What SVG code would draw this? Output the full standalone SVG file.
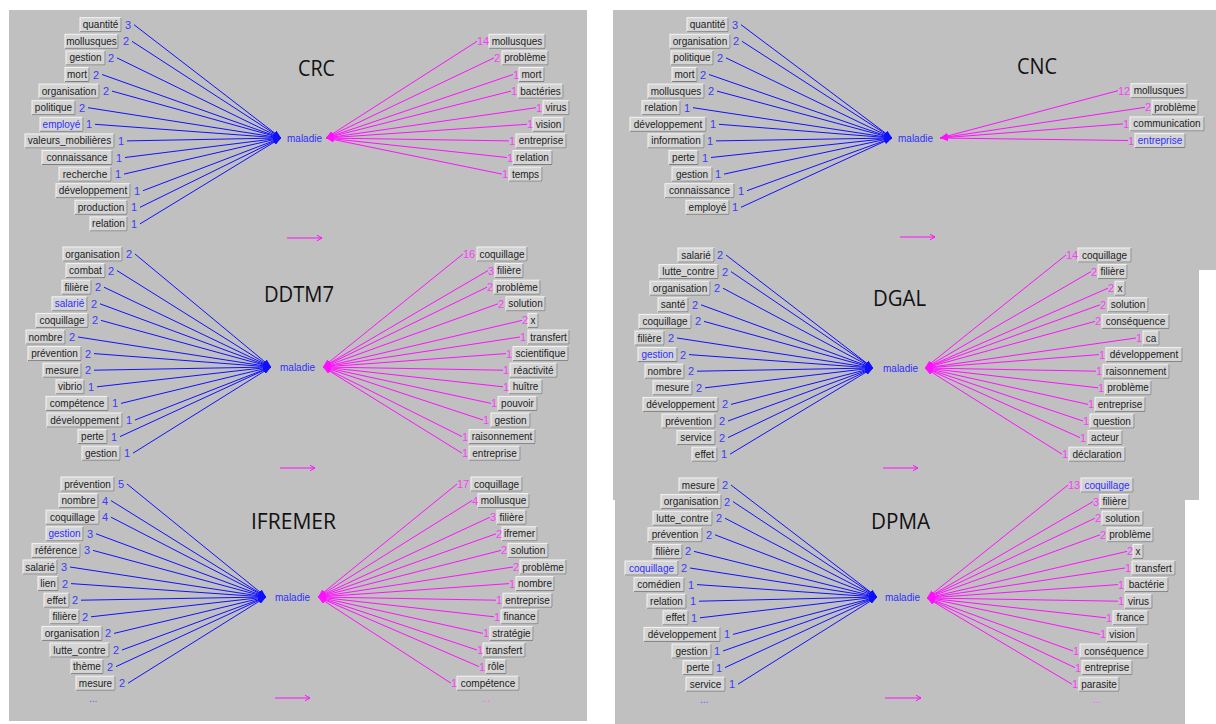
<svg xmlns="http://www.w3.org/2000/svg" width="1216" height="724" viewBox="0 0 1216 724">
<style>
.bg{fill:#c0c0c0}
.n rect{fill:#d4d4d4;stroke:#f4f4f4}
.n path{fill:none;stroke:#7d7d7d}
.n text{font-family:"Liberation Sans",Arial,sans-serif;font-size:10px;fill:#1c1c1c;text-anchor:middle}
.n text.b{fill:#2e2eff}
.n text.nb{font-size:11px;fill:#3a3aff;text-anchor:start}
.n text.nm{font-size:11px;fill:#ff3aff;text-anchor:start}
.cb{stroke:#1010ff;stroke-width:1;fill:none;marker-end:url(#hb)}
.cm{stroke:#ff10ff;stroke-width:1;fill:none;marker-end:url(#hm)}
.ar{stroke:#ff10ff;stroke-width:1;fill:none;marker-end:url(#ha)}
.ttl{font-family:"Open Sans","Noto Sans",sans-serif;font-size:21px;fill:#111}
.mal{font-family:"Liberation Sans",Arial,sans-serif;font-size:10px;fill:#2e2eff}
.db{font-family:"Liberation Sans",Arial,sans-serif;font-size:10px;fill:#5a5aff}
.dm{font-family:"Liberation Sans",Arial,sans-serif;font-size:10px;fill:#ff5aff}
</style>
<defs>
<marker id="hb" viewBox="0 0 8 6" markerWidth="8" markerHeight="6" refX="8" refY="3" orient="auto" markerUnits="userSpaceOnUse"><path d="M0 0L8 3L0 6z" fill="#1010ff"/></marker>
<marker id="hm" viewBox="0 0 8 6" markerWidth="8" markerHeight="6" refX="8" refY="3" orient="auto" markerUnits="userSpaceOnUse"><path d="M0 0L8 3L0 6z" fill="#ff10ff"/></marker>
<marker id="ha" viewBox="0 0 6 6" markerWidth="6" markerHeight="6" refX="5.5" refY="3" orient="auto" markerUnits="userSpaceOnUse"><path d="M0 0L5.5 3L0 6" fill="none" stroke="#ff10ff"/></marker>
</defs>
<rect width="1216" height="724" fill="#ffffff"/>
<rect class="bg" x="9" y="10" width="578" height="711"/>
<path class="bg" d="M613 10H1216V270H1199V500H1185V724H615V500H613Z"/>

<g id="titles">
<text class="ttl" x="298" y="76" textLength="37" lengthAdjust="spacingAndGlyphs">CRC</text>
<text class="ttl" x="264" y="301.5" textLength="70" lengthAdjust="spacingAndGlyphs">DDTM7</text>
<text class="ttl" x="251" y="529" textLength="85" lengthAdjust="spacingAndGlyphs">IFREMER</text>
<text class="ttl" x="1017" y="73.5" textLength="40" lengthAdjust="spacingAndGlyphs">CNC</text>
<text class="ttl" x="873" y="305.5" textLength="53" lengthAdjust="spacingAndGlyphs">DGAL</text>
<text class="ttl" x="871" y="529" textLength="59" lengthAdjust="spacingAndGlyphs">DPMA</text>
</g>

<g id="connectors">
<!-- CRC -->
<path class="cb" d="M134 24.7L281 138"/>
<path class="cb" d="M132 41.3L281 138"/>
<path class="cb" d="M117 57.9L281 138"/>
<path class="cb" d="M102 74.5L281 138"/>
<path class="cb" d="M112 91.1L281 138"/>
<path class="cb" d="M88 107.7L281 138"/>
<path class="cb" d="M95 124.3L281 138"/>
<path class="cb" d="M127 140.9L281 138"/>
<path class="cb" d="M125 157.5L281 138"/>
<path class="cb" d="M124 174.1L281 138"/>
<path class="cb" d="M143 190.7L281 138"/>
<path class="cb" d="M140 207.3L281 138"/>
<path class="cb" d="M140 223.9L281 138"/>
<path class="cm" d="M477 41.3L326 138"/>
<path class="cm" d="M494 57.9L326 138"/>
<path class="cm" d="M513 74.5L326 138"/>
<path class="cm" d="M511 91.1L326 138"/>
<path class="cm" d="M536 107.7L326 138"/>
<path class="cm" d="M527 124.3L326 138"/>
<path class="cm" d="M509 140.9L326 138"/>
<path class="cm" d="M507 157.5L326 138"/>
<path class="cm" d="M502 174.1L326 138"/>
<path class="ar" d="M287 238H322"/>
<!-- DDTM7 -->
<path class="cb" d="M135 254L271 367"/>
<path class="cb" d="M117 270.6L271 367"/>
<path class="cb" d="M104 287.2L271 367"/>
<path class="cb" d="M100 303.8L271 367"/>
<path class="cb" d="M101 320.4L271 367"/>
<path class="cb" d="M78 337L271 367"/>
<path class="cb" d="M94 353.6L271 367"/>
<path class="cb" d="M94 370.2L271 367"/>
<path class="cb" d="M97 386.8L271 367"/>
<path class="cb" d="M121 403.4L271 367"/>
<path class="cb" d="M135 420L271 367"/>
<path class="cb" d="M120 436.6L271 367"/>
<path class="cb" d="M133 453.2L271 367"/>
<path class="cm" d="M463 254L323 367"/>
<path class="cm" d="M488 270.6L323 367"/>
<path class="cm" d="M487 287.2L323 367"/>
<path class="cm" d="M498 303.8L323 367"/>
<path class="cm" d="M522 320.4L323 367"/>
<path class="cm" d="M520 337L323 367"/>
<path class="cm" d="M506 353.6L323 367"/>
<path class="cm" d="M503 370.2L323 367"/>
<path class="cm" d="M503 386.8L323 367"/>
<path class="cm" d="M491 403.4L323 367"/>
<path class="cm" d="M483 420L323 367"/>
<path class="cm" d="M462 436.6L323 367"/>
<path class="cm" d="M462 453.2L323 367"/>
<path class="ar" d="M280 468H315"/>
<!-- IFREMER -->
<path class="cb" d="M127 484L266 597"/>
<path class="cb" d="M111 500.6L266 597"/>
<path class="cb" d="M111 517.2L266 597"/>
<path class="cb" d="M96 533.8L266 597"/>
<path class="cb" d="M93 550.4L266 597"/>
<path class="cb" d="M70 567L266 597"/>
<path class="cb" d="M71 583.6L266 597"/>
<path class="cb" d="M81 600.2L266 597"/>
<path class="cb" d="M91 616.8L266 597"/>
<path class="cb" d="M114 633.4L266 597"/>
<path class="cb" d="M122 650L266 597"/>
<path class="cb" d="M116 666.6L266 597"/>
<path class="cb" d="M128 683.2L266 597"/>
<path class="cm" d="M457 484L318 597"/>
<path class="cm" d="M472 500.6L318 597"/>
<path class="cm" d="M490 517.2L318 597"/>
<path class="cm" d="M496 533.8L318 597"/>
<path class="cm" d="M501 550.4L318 597"/>
<path class="cm" d="M513 567L318 597"/>
<path class="cm" d="M509 583.6L318 597"/>
<path class="cm" d="M496 600.2L318 597"/>
<path class="cm" d="M494 616.8L318 597"/>
<path class="cm" d="M483 633.4L318 597"/>
<path class="cm" d="M477 650L318 597"/>
<path class="cm" d="M479 666.6L318 597"/>
<path class="cm" d="M451 683.2L318 597"/>
<path class="ar" d="M275 698H310"/>
<!-- CNC -->
<path class="cb" d="M741 24.7L892 138"/>
<path class="cb" d="M742 41.3L892 138"/>
<path class="cb" d="M726 57.9L892 138"/>
<path class="cb" d="M709 74.5L892 138"/>
<path class="cb" d="M717 91.1L892 138"/>
<path class="cb" d="M693 107.7L892 138"/>
<path class="cb" d="M719 124.3L892 138"/>
<path class="cb" d="M716 140.9L892 138"/>
<path class="cb" d="M711 157.5L892 138"/>
<path class="cb" d="M724 174.1L892 138"/>
<path class="cb" d="M747 190.7L892 138"/>
<path class="cb" d="M741 207.3L892 138"/>
<path class="cm" d="M1118 90.7L940 138"/>
<path class="cm" d="M1145 107.3L940 138"/>
<path class="cm" d="M1123 123.9L940 138"/>
<path class="cm" d="M1128 140.5L940 138"/>
<path class="ar" d="M900 237H935"/>
<!-- DGAL -->
<path class="cb" d="M726 255L873 368"/>
<path class="cb" d="M731 271.6L873 368"/>
<path class="cb" d="M723 288.2L873 368"/>
<path class="cb" d="M701 304.8L873 368"/>
<path class="cb" d="M704 321.4L873 368"/>
<path class="cb" d="M677 338L873 368"/>
<path class="cb" d="M689 354.6L873 368"/>
<path class="cb" d="M697 371.2L873 368"/>
<path class="cb" d="M705 387.8L873 368"/>
<path class="cb" d="M731 404.4L873 368"/>
<path class="cb" d="M728 421L873 368"/>
<path class="cb" d="M728 437.6L873 368"/>
<path class="cb" d="M730 454.2L873 368"/>
<path class="cm" d="M1066 255L925 368"/>
<path class="cm" d="M1091 271.6L925 368"/>
<path class="cm" d="M1108 288.2L925 368"/>
<path class="cm" d="M1100 304.8L925 368"/>
<path class="cm" d="M1095 321.4L925 368"/>
<path class="cm" d="M1136 338L925 368"/>
<path class="cm" d="M1099 354.6L925 368"/>
<path class="cm" d="M1096 371.2L925 368"/>
<path class="cm" d="M1098 387.8L925 368"/>
<path class="cm" d="M1088 404.4L925 368"/>
<path class="cm" d="M1083 421L925 368"/>
<path class="cm" d="M1080 437.6L925 368"/>
<path class="cm" d="M1062 454.2L925 368"/>
<path class="ar" d="M883 468H918"/>
<!-- DPMA -->
<path class="cb" d="M731 485L877 597"/>
<path class="cb" d="M733 501.6L877 597"/>
<path class="cb" d="M725 518.2L877 597"/>
<path class="cb" d="M715 534.8L877 597"/>
<path class="cb" d="M694 551.4L877 597"/>
<path class="cb" d="M690 568L877 597"/>
<path class="cb" d="M697 584.6L877 597"/>
<path class="cb" d="M699 601.2L877 597"/>
<path class="cb" d="M700 617.8L877 597"/>
<path class="cb" d="M733 634.4L877 597"/>
<path class="cb" d="M723 651L877 597"/>
<path class="cb" d="M725 667.6L877 597"/>
<path class="cb" d="M738 684.2L877 597"/>
<path class="cm" d="M1068 485L927 598"/>
<path class="cm" d="M1093 501.6L927 598"/>
<path class="cm" d="M1095 518.2L927 598"/>
<path class="cm" d="M1100 534.8L927 598"/>
<path class="cm" d="M1127 551.4L927 598"/>
<path class="cm" d="M1125 568L927 598"/>
<path class="cm" d="M1118 584.6L927 598"/>
<path class="cm" d="M1118 601.2L927 598"/>
<path class="cm" d="M1106 617.8L927 598"/>
<path class="cm" d="M1100 634.4L927 598"/>
<path class="cm" d="M1073 651L927 598"/>
<path class="cm" d="M1075 667.6L927 598"/>
<path class="cm" d="M1072 684.2L927 598"/>
<path class="ar" d="M885 698H921"/>
</g>

<!-- central nodes -->
<g id="crc-maladie"><text class="mal" x="287" y="141.5">maladie</text></g>
<g id="ddtm7-maladie"><text class="mal" x="280" y="370.5">maladie</text></g>
<g id="ifremer-maladie"><text class="mal" x="275" y="600.5">maladie</text></g>
<g id="cnc-maladie"><text class="mal" x="898" y="141.5">maladie</text></g>
<g id="dgal-maladie"><text class="mal" x="883" y="371.5">maladie</text></g>
<g id="dpma-maladie"><text class="mal" x="885" y="601">maladie</text></g>

<!-- CRC left -->
<g class="n" id="crc-l1" transform="translate(0 24.7)"><rect x="80" y="-7" width="41" height="14"/><path d="M80 7H121V-7"/><text x="100.5" y="3.5">quantité</text><text class="nb" x="125" y="4">3</text></g>
<g class="n" id="crc-l2" transform="translate(0 41.3)"><rect x="65" y="-7" width="53" height="14"/><path d="M65 7H118V-7"/><text x="91.5" y="3.5">mollusques</text><text class="nb" x="123" y="4">2</text></g>
<g class="n" id="crc-l3" transform="translate(0 57.9)"><rect x="66" y="-7" width="39" height="14"/><path d="M66 7H105V-7"/><text x="85.5" y="3.5">gestion</text><text class="nb" x="108" y="4">2</text></g>
<g class="n" id="crc-l4" transform="translate(0 74.5)"><rect x="65" y="-7" width="24" height="14"/><path d="M65 7H89V-7"/><text x="77" y="3.5">mort</text><text class="nb" x="93" y="4">2</text></g>
<g class="n" id="crc-l5" transform="translate(0 91.1)"><rect x="39" y="-7" width="60" height="14"/><path d="M39 7H99V-7"/><text x="69" y="3.5">organisation</text><text class="nb" x="103" y="4">2</text></g>
<g class="n" id="crc-l6" transform="translate(0 107.7)"><rect x="32" y="-7" width="43" height="14"/><path d="M32 7H75V-7"/><text x="53.5" y="3.5">politique</text><text class="nb" x="79" y="4">2</text></g>
<g class="n" id="crc-l7" transform="translate(0 124.3)"><rect x="40" y="-7" width="43" height="14"/><path d="M40 7H83V-7"/><text class="b" x="61.5" y="3.5">employé</text><text class="nb" x="86" y="4">1</text></g>
<g class="n" id="crc-l8" transform="translate(0 140.9)"><rect x="25" y="-7" width="89" height="14"/><path d="M25 7H114V-7"/><text x="69.5" y="3.5">valeurs_mobilières</text><text class="nb" x="118" y="4">1</text></g>
<g class="n" id="crc-l9" transform="translate(0 157.5)"><rect x="42" y="-7" width="70" height="14"/><path d="M42 7H112V-7"/><text x="77" y="3.5">connaissance</text><text class="nb" x="116" y="4">1</text></g>
<g class="n" id="crc-l10" transform="translate(0 174.1)"><rect x="59" y="-7" width="52" height="14"/><path d="M59 7H111V-7"/><text x="85" y="3.5">recherche</text><text class="nb" x="115" y="4">1</text></g>
<g class="n" id="crc-l11" transform="translate(0 190.7)"><rect x="56" y="-7" width="74" height="14"/><path d="M56 7H130V-7"/><text x="93" y="3.5">développement</text><text class="nb" x="134" y="4">1</text></g>
<g class="n" id="crc-l12" transform="translate(0 207.3)"><rect x="75" y="-7" width="52" height="14"/><path d="M75 7H127V-7"/><text x="101" y="3.5">production</text><text class="nb" x="131" y="4">1</text></g>
<g class="n" id="crc-l13" transform="translate(0 223.9)"><rect x="90" y="-7" width="37" height="14"/><path d="M90 7H127V-7"/><text x="108.5" y="3.5">relation</text><text class="nb" x="131" y="4">1</text></g>
<!-- CRC right -->
<g class="n" id="crc-r1" transform="translate(0 41.3)"><rect x="489" y="-7" width="56" height="14"/><path d="M489 7H545V-7"/><text x="517" y="3.5">mollusques</text><text class="nm" x="477" y="4">14</text></g>
<g class="n" id="crc-r2" transform="translate(0 57.9)"><rect x="502" y="-7" width="46" height="14"/><path d="M502 7H548V-7"/><text x="525" y="3.5">problème</text><text class="nm" x="494" y="4">2</text></g>
<g class="n" id="crc-r3" transform="translate(0 74.5)"><rect x="519" y="-7" width="25" height="14"/><path d="M519 7H544V-7"/><text x="531.5" y="3.5">mort</text><text class="nm" x="513" y="4">1</text></g>
<g class="n" id="crc-r4" transform="translate(0 91.1)"><rect x="518" y="-7" width="45" height="14"/><path d="M518 7H563V-7"/><text x="540.5" y="3.5">bactéries</text><text class="nm" x="511" y="4">1</text></g>
<g class="n" id="crc-r5" transform="translate(0 107.7)"><rect x="543" y="-7" width="26" height="14"/><path d="M543 7H569V-7"/><text x="556" y="3.5">virus</text><text class="nm" x="536" y="4">1</text></g>
<g class="n" id="crc-r6" transform="translate(0 124.3)"><rect x="533" y="-7" width="31" height="14"/><path d="M533 7H564V-7"/><text x="548.5" y="3.5">vision</text><text class="nm" x="527" y="4">1</text></g>
<g class="n" id="crc-r7" transform="translate(0 140.9)"><rect x="516" y="-7" width="50" height="14"/><path d="M516 7H566V-7"/><text x="541" y="3.5">entreprise</text><text class="nm" x="509" y="4">1</text></g>
<g class="n" id="crc-r8" transform="translate(0 157.5)"><rect x="513" y="-7" width="39" height="14"/><path d="M513 7H552V-7"/><text x="532.5" y="3.5">relation</text><text class="nm" x="507" y="4">1</text></g>
<g class="n" id="crc-r9" transform="translate(0 174.1)"><rect x="509" y="-7" width="33" height="14"/><path d="M509 7H542V-7"/><text x="525.5" y="3.5">temps</text><text class="nm" x="502" y="4">1</text></g>

<!-- DDTM7 left -->
<g class="n" id="ddtm7-l1" transform="translate(0 254)"><rect x="63" y="-7" width="59" height="14"/><path d="M63 7H122V-7"/><text x="92.5" y="3.5">organisation</text><text class="nb" x="126" y="4">2</text></g>
<g class="n" id="ddtm7-l2" transform="translate(0 270.6)"><rect x="66" y="-7" width="39" height="14"/><path d="M66 7H105V-7"/><text x="85.5" y="3.5">combat</text><text class="nb" x="108" y="4">2</text></g>
<g class="n" id="ddtm7-l3" transform="translate(0 287.2)"><rect x="62" y="-7" width="29" height="14"/><path d="M62 7H91V-7"/><text x="76.5" y="3.5">filière</text><text class="nb" x="95" y="4">2</text></g>
<g class="n" id="ddtm7-l4" transform="translate(0 303.8)"><rect x="52" y="-7" width="35" height="14"/><path d="M52 7H87V-7"/><text class="b" x="69.5" y="3.5">salarié</text><text class="nb" x="91" y="4">2</text></g>
<g class="n" id="ddtm7-l5" transform="translate(0 320.4)"><rect x="36" y="-7" width="52" height="14"/><path d="M36 7H88V-7"/><text x="62" y="3.5">coquillage</text><text class="nb" x="92" y="4">2</text></g>
<g class="n" id="ddtm7-l6" transform="translate(0 337)"><rect x="26" y="-7" width="39" height="14"/><path d="M26 7H65V-7"/><text x="45.5" y="3.5">nombre</text><text class="nb" x="69" y="4">2</text></g>
<g class="n" id="ddtm7-l7" transform="translate(0 353.6)"><rect x="28" y="-7" width="53" height="14"/><path d="M28 7H81V-7"/><text x="54.5" y="3.5">prévention</text><text class="nb" x="85" y="4">2</text></g>
<g class="n" id="ddtm7-l8" transform="translate(0 370.2)"><rect x="43" y="-7" width="38" height="14"/><path d="M43 7H81V-7"/><text x="62" y="3.5">mesure</text><text class="nb" x="85" y="4">2</text></g>
<g class="n" id="ddtm7-l9" transform="translate(0 386.8)"><rect x="56" y="-7" width="28" height="14"/><path d="M56 7H84V-7"/><text x="70" y="3.5">vibrio</text><text class="nb" x="88" y="4">1</text></g>
<g class="n" id="ddtm7-l10" transform="translate(0 403.4)"><rect x="46" y="-7" width="62" height="14"/><path d="M46 7H108V-7"/><text x="77" y="3.5">compétence</text><text class="nb" x="112" y="4">1</text></g>
<g class="n" id="ddtm7-l11" transform="translate(0 420)"><rect x="47" y="-7" width="75" height="14"/><path d="M47 7H122V-7"/><text x="84.5" y="3.5">développement</text><text class="nb" x="126" y="4">1</text></g>
<g class="n" id="ddtm7-l12" transform="translate(0 436.6)"><rect x="78" y="-7" width="29" height="14"/><path d="M78 7H107V-7"/><text x="92.5" y="3.5">perte</text><text class="nb" x="111" y="4">1</text></g>
<g class="n" id="ddtm7-l13" transform="translate(0 453.2)"><rect x="82" y="-7" width="38" height="14"/><path d="M82 7H120V-7"/><text x="101" y="3.5">gestion</text><text class="nb" x="124" y="4">1</text></g>
<!-- DDTM7 right -->
<g class="n" id="ddtm7-r1" transform="translate(0 254)"><rect x="477" y="-7" width="50" height="14"/><path d="M477 7H527V-7"/><text x="502" y="3.5">coquillage</text><text class="nm" x="463" y="4">16</text></g>
<g class="n" id="ddtm7-r2" transform="translate(0 270.6)"><rect x="495" y="-7" width="28" height="14"/><path d="M495 7H523V-7"/><text x="509" y="3.5">filière</text><text class="nm" x="488" y="4">3</text></g>
<g class="n" id="ddtm7-r3" transform="translate(0 287.2)"><rect x="494" y="-7" width="46" height="14"/><path d="M494 7H540V-7"/><text x="517" y="3.5">problème</text><text class="nm" x="487" y="4">2</text></g>
<g class="n" id="ddtm7-r4" transform="translate(0 303.8)"><rect x="506" y="-7" width="39" height="14"/><path d="M506 7H545V-7"/><text x="525.5" y="3.5">solution</text><text class="nm" x="498" y="4">2</text></g>
<g class="n" id="ddtm7-r5" transform="translate(0 320.4)"><rect x="528" y="-7" width="10" height="14"/><path d="M528 7H538V-7"/><text x="533" y="3.5">x</text><text class="nm" x="522" y="4">2</text></g>
<g class="n" id="ddtm7-r6" transform="translate(0 337)"><rect x="528" y="-7" width="41" height="14"/><path d="M528 7H569V-7"/><text x="548.5" y="3.5">transfert</text><text class="nm" x="520" y="4">1</text></g>
<g class="n" id="ddtm7-r7" transform="translate(0 353.6)"><rect x="513" y="-7" width="55" height="14"/><path d="M513 7H568V-7"/><text x="540.5" y="3.5">scientifique</text><text class="nm" x="506" y="4">1</text></g>
<g class="n" id="ddtm7-r8" transform="translate(0 370.2)"><rect x="510" y="-7" width="47" height="14"/><path d="M510 7H557V-7"/><text x="533.5" y="3.5">réactivité</text><text class="nm" x="503" y="4">1</text></g>
<g class="n" id="ddtm7-r9" transform="translate(0 386.8)"><rect x="509" y="-7" width="33" height="14"/><path d="M509 7H542V-7"/><text x="525.5" y="3.5">huître</text><text class="nm" x="503" y="4">1</text></g>
<g class="n" id="ddtm7-r10" transform="translate(0 403.4)"><rect x="498" y="-7" width="39" height="14"/><path d="M498 7H537V-7"/><text x="517.5" y="3.5">pouvoir</text><text class="nm" x="491" y="4">1</text></g>
<g class="n" id="ddtm7-r11" transform="translate(0 420)"><rect x="491" y="-7" width="39" height="14"/><path d="M491 7H530V-7"/><text x="510.5" y="3.5">gestion</text><text class="nm" x="483" y="4">1</text></g>
<g class="n" id="ddtm7-r12" transform="translate(0 436.6)"><rect x="469" y="-7" width="66" height="14"/><path d="M469 7H535V-7"/><text x="502" y="3.5">raisonnement</text><text class="nm" x="462" y="4">1</text></g>
<g class="n" id="ddtm7-r13" transform="translate(0 453.2)"><rect x="469" y="-7" width="51" height="14"/><path d="M469 7H520V-7"/><text x="494.5" y="3.5">entreprise</text><text class="nm" x="462" y="4">1</text></g>

<!-- IFREMER left -->
<g class="n" id="ifremer-l1" transform="translate(0 484)"><rect x="61" y="-7" width="53" height="14"/><path d="M61 7H114V-7"/><text x="87.5" y="3.5">prévention</text><text class="nb" x="118" y="4">5</text></g>
<g class="n" id="ifremer-l2" transform="translate(0 500.6)"><rect x="59" y="-7" width="39" height="14"/><path d="M59 7H98V-7"/><text x="78.5" y="3.5">nombre</text><text class="nb" x="102" y="4">4</text></g>
<g class="n" id="ifremer-l3" transform="translate(0 517.2)"><rect x="46" y="-7" width="53" height="14"/><path d="M46 7H99V-7"/><text x="72.5" y="3.5">coquillage</text><text class="nb" x="102" y="4">4</text></g>
<g class="n" id="ifremer-l4" transform="translate(0 533.8)"><rect x="46" y="-7" width="37" height="14"/><path d="M46 7H83V-7"/><text class="b" x="64.5" y="3.5">gestion</text><text class="nb" x="87" y="4">3</text></g>
<g class="n" id="ifremer-l5" transform="translate(0 550.4)"><rect x="32" y="-7" width="48" height="14"/><path d="M32 7H80V-7"/><text x="56" y="3.5">référence</text><text class="nb" x="84" y="4">3</text></g>
<g class="n" id="ifremer-l6" transform="translate(0 567)"><rect x="23" y="-7" width="34" height="14"/><path d="M23 7H57V-7"/><text x="40" y="3.5">salarié</text><text class="nb" x="61" y="4">3</text></g>
<g class="n" id="ifremer-l7" transform="translate(0 583.6)"><rect x="38" y="-7" width="20" height="14"/><path d="M38 7H58V-7"/><text x="48" y="3.5">lien</text><text class="nb" x="62" y="4">2</text></g>
<g class="n" id="ifremer-l8" transform="translate(0 600.2)"><rect x="44" y="-7" width="25" height="14"/><path d="M44 7H69V-7"/><text x="56.5" y="3.5">effet</text><text class="nb" x="72" y="4">2</text></g>
<g class="n" id="ifremer-l9" transform="translate(0 616.8)"><rect x="50" y="-7" width="29" height="14"/><path d="M50 7H79V-7"/><text x="64.5" y="3.5">filière</text><text class="nb" x="82" y="4">2</text></g>
<g class="n" id="ifremer-l10" transform="translate(0 633.4)"><rect x="42" y="-7" width="60" height="14"/><path d="M42 7H102V-7"/><text x="72" y="3.5">organisation</text><text class="nb" x="105" y="4">2</text></g>
<g class="n" id="ifremer-l11" transform="translate(0 650)"><rect x="50" y="-7" width="59" height="14"/><path d="M50 7H109V-7"/><text x="79.5" y="3.5">lutte_contre</text><text class="nb" x="113" y="4">2</text></g>
<g class="n" id="ifremer-l12" transform="translate(0 666.6)"><rect x="71" y="-7" width="32" height="14"/><path d="M71 7H103V-7"/><text x="87" y="3.5">thème</text><text class="nb" x="107" y="4">2</text></g>
<g class="n" id="ifremer-l13" transform="translate(0 683.2)"><rect x="76" y="-7" width="39" height="14"/><path d="M76 7H115V-7"/><text x="95.5" y="3.5">mesure</text><text class="nb" x="119" y="4">2</text></g>
<text class="db" x="89" y="702">...</text>
<!-- IFREMER right -->
<g class="n" id="ifremer-r1" transform="translate(0 484)"><rect x="471" y="-7" width="51" height="14"/><path d="M471 7H522V-7"/><text x="496.5" y="3.5">coquillage</text><text class="nm" x="457" y="4">17</text></g>
<g class="n" id="ifremer-r2" transform="translate(0 500.6)"><rect x="478" y="-7" width="51" height="14"/><path d="M478 7H529V-7"/><text x="503.5" y="3.5">mollusque</text><text class="nm" x="472" y="4">4</text></g>
<g class="n" id="ifremer-r3" transform="translate(0 517.2)"><rect x="497" y="-7" width="29" height="14"/><path d="M497 7H526V-7"/><text x="511.5" y="3.5">filière</text><text class="nm" x="490" y="4">3</text></g>
<g class="n" id="ifremer-r4" transform="translate(0 533.8)"><rect x="502" y="-7" width="35" height="14"/><path d="M502 7H537V-7"/><text x="519.5" y="3.5">ifremer</text><text class="nm" x="496" y="4">2</text></g>
<g class="n" id="ifremer-r5" transform="translate(0 550.4)"><rect x="508" y="-7" width="40" height="14"/><path d="M508 7H548V-7"/><text x="528" y="3.5">solution</text><text class="nm" x="501" y="4">2</text></g>
<g class="n" id="ifremer-r6" transform="translate(0 567)"><rect x="520" y="-7" width="46" height="14"/><path d="M520 7H566V-7"/><text x="543" y="3.5">problème</text><text class="nm" x="513" y="4">2</text></g>
<g class="n" id="ifremer-r7" transform="translate(0 583.6)"><rect x="516" y="-7" width="38" height="14"/><path d="M516 7H554V-7"/><text x="535" y="3.5">nombre</text><text class="nm" x="509" y="4">1</text></g>
<g class="n" id="ifremer-r8" transform="translate(0 600.2)"><rect x="503" y="-7" width="49" height="14"/><path d="M503 7H552V-7"/><text x="527.5" y="3.5">entreprise</text><text class="nm" x="496" y="4">1</text></g>
<g class="n" id="ifremer-r9" transform="translate(0 616.8)"><rect x="501" y="-7" width="37" height="14"/><path d="M501 7H538V-7"/><text x="519.5" y="3.5">finance</text><text class="nm" x="494" y="4">1</text></g>
<g class="n" id="ifremer-r10" transform="translate(0 633.4)"><rect x="490" y="-7" width="43" height="14"/><path d="M490 7H533V-7"/><text x="511.5" y="3.5">stratégie</text><text class="nm" x="483" y="4">1</text></g>
<g class="n" id="ifremer-r11" transform="translate(0 650)"><rect x="483" y="-7" width="42" height="14"/><path d="M483 7H525V-7"/><text x="504" y="3.5">transfert</text><text class="nm" x="477" y="4">1</text></g>
<g class="n" id="ifremer-r12" transform="translate(0 666.6)"><rect x="486" y="-7" width="20" height="14"/><path d="M486 7H506V-7"/><text x="496" y="3.5">rôle</text><text class="nm" x="479" y="4">1</text></g>
<g class="n" id="ifremer-r13" transform="translate(0 683.2)"><rect x="457" y="-7" width="62" height="14"/><path d="M457 7H519V-7"/><text x="488" y="3.5">compétence</text><text class="nm" x="451" y="4">1</text></g>
<text class="dm" x="482" y="702">...</text>

<!-- CNC left -->
<g class="n" id="cnc-l1" transform="translate(0 24.7)"><rect x="687" y="-7" width="41" height="14"/><path d="M687 7H728V-7"/><text x="707.5" y="3.5">quantité</text><text class="nb" x="732" y="4">3</text></g>
<g class="n" id="cnc-l2" transform="translate(0 41.3)"><rect x="670" y="-7" width="60" height="14"/><path d="M670 7H730V-7"/><text x="700" y="3.5">organisation</text><text class="nb" x="733" y="4">2</text></g>
<g class="n" id="cnc-l3" transform="translate(0 57.9)"><rect x="671" y="-7" width="42" height="14"/><path d="M671 7H713V-7"/><text x="692" y="3.5">politique</text><text class="nb" x="717" y="4">2</text></g>
<g class="n" id="cnc-l4" transform="translate(0 74.5)"><rect x="672" y="-7" width="25" height="14"/><path d="M672 7H697V-7"/><text x="684.5" y="3.5">mort</text><text class="nb" x="700" y="4">2</text></g>
<g class="n" id="cnc-l5" transform="translate(0 91.1)"><rect x="648" y="-7" width="56" height="14"/><path d="M648 7H704V-7"/><text x="676" y="3.5">mollusques</text><text class="nb" x="708" y="4">2</text></g>
<g class="n" id="cnc-l6" transform="translate(0 107.7)"><rect x="642" y="-7" width="38" height="14"/><path d="M642 7H680V-7"/><text x="661" y="3.5">relation</text><text class="nb" x="684" y="4">1</text></g>
<g class="n" id="cnc-l7" transform="translate(0 124.3)"><rect x="630" y="-7" width="76" height="14"/><path d="M630 7H706V-7"/><text x="668" y="3.5">développement</text><text class="nb" x="710" y="4">1</text></g>
<g class="n" id="cnc-l8" transform="translate(0 140.9)"><rect x="648" y="-7" width="56" height="14"/><path d="M648 7H704V-7"/><text x="676" y="3.5">information</text><text class="nb" x="707" y="4">1</text></g>
<g class="n" id="cnc-l9" transform="translate(0 157.5)"><rect x="669" y="-7" width="29" height="14"/><path d="M669 7H698V-7"/><text x="683.5" y="3.5">perte</text><text class="nb" x="702" y="4">1</text></g>
<g class="n" id="cnc-l10" transform="translate(0 174.1)"><rect x="672" y="-7" width="40" height="14"/><path d="M672 7H712V-7"/><text x="692" y="3.5">gestion</text><text class="nb" x="715" y="4">1</text></g>
<g class="n" id="cnc-l11" transform="translate(0 190.7)"><rect x="665" y="-7" width="69" height="14"/><path d="M665 7H734V-7"/><text x="699.5" y="3.5">connaissance</text><text class="nb" x="738" y="4">1</text></g>
<g class="n" id="cnc-l12" transform="translate(0 207.3)"><rect x="686" y="-7" width="43" height="14"/><path d="M686 7H729V-7"/><text x="707.5" y="3.5">employé</text><text class="nb" x="732" y="4">1</text></g>
<!-- CNC right -->
<g class="n" id="cnc-r1" transform="translate(0 90.7)"><rect x="1131" y="-7" width="56" height="14"/><path d="M1131 7H1187V-7"/><text x="1159" y="3.5">mollusques</text><text class="nm" x="1118" y="4">12</text></g>
<g class="n" id="cnc-r2" transform="translate(0 107.3)"><rect x="1152" y="-7" width="46" height="14"/><path d="M1152 7H1198V-7"/><text x="1175" y="3.5">problème</text><text class="nm" x="1145" y="4">2</text></g>
<g class="n" id="cnc-r3" transform="translate(0 123.9)"><rect x="1130" y="-7" width="74" height="14"/><path d="M1130 7H1204V-7"/><text x="1167" y="3.5">communication</text><text class="nm" x="1123" y="4">1</text></g>
<g class="n" id="cnc-r4" transform="translate(0 140.5)"><rect x="1135" y="-7" width="50" height="14"/><path d="M1135 7H1185V-7"/><text class="b" x="1160" y="3.5">entreprise</text><text class="nm" x="1128" y="4">1</text></g>

<!-- DGAL left -->
<g class="n" id="dgal-l1" transform="translate(0 255)"><rect x="678" y="-7" width="36" height="14"/><path d="M678 7H714V-7"/><text x="696" y="3.5">salarié</text><text class="nb" x="717" y="4">2</text></g>
<g class="n" id="dgal-l2" transform="translate(0 271.6)"><rect x="659" y="-7" width="59" height="14"/><path d="M659 7H718V-7"/><text x="688.5" y="3.5">lutte_contre</text><text class="nb" x="722" y="4">2</text></g>
<g class="n" id="dgal-l3" transform="translate(0 288.2)"><rect x="650" y="-7" width="60" height="14"/><path d="M650 7H710V-7"/><text x="680" y="3.5">organisation</text><text class="nb" x="714" y="4">2</text></g>
<g class="n" id="dgal-l4" transform="translate(0 304.8)"><rect x="658" y="-7" width="30" height="14"/><path d="M658 7H688V-7"/><text x="673" y="3.5">santé</text><text class="nb" x="692" y="4">2</text></g>
<g class="n" id="dgal-l5" transform="translate(0 321.4)"><rect x="639" y="-7" width="52" height="14"/><path d="M639 7H691V-7"/><text x="665" y="3.5">coquillage</text><text class="nb" x="695" y="4">2</text></g>
<g class="n" id="dgal-l6" transform="translate(0 338)"><rect x="635" y="-7" width="29" height="14"/><path d="M635 7H664V-7"/><text x="649.5" y="3.5">filière</text><text class="nb" x="668" y="4">2</text></g>
<g class="n" id="dgal-l7" transform="translate(0 354.6)"><rect x="638" y="-7" width="39" height="14"/><path d="M638 7H677V-7"/><text class="b" x="657.5" y="3.5">gestion</text><text class="nb" x="680" y="4">2</text></g>
<g class="n" id="dgal-l8" transform="translate(0 371.2)"><rect x="645" y="-7" width="39" height="14"/><path d="M645 7H684V-7"/><text x="664.5" y="3.5">nombre</text><text class="nb" x="688" y="4">2</text></g>
<g class="n" id="dgal-l9" transform="translate(0 387.8)"><rect x="653" y="-7" width="39" height="14"/><path d="M653 7H692V-7"/><text x="672.5" y="3.5">mesure</text><text class="nb" x="696" y="4">2</text></g>
<g class="n" id="dgal-l10" transform="translate(0 404.4)"><rect x="643" y="-7" width="75" height="14"/><path d="M643 7H718V-7"/><text x="680.5" y="3.5">développement</text><text class="nb" x="722" y="4">2</text></g>
<g class="n" id="dgal-l11" transform="translate(0 421)"><rect x="662" y="-7" width="53" height="14"/><path d="M662 7H715V-7"/><text x="688.5" y="3.5">prévention</text><text class="nb" x="719" y="4">2</text></g>
<g class="n" id="dgal-l12" transform="translate(0 437.6)"><rect x="677" y="-7" width="38" height="14"/><path d="M677 7H715V-7"/><text x="696" y="3.5">service</text><text class="nb" x="719" y="4">2</text></g>
<g class="n" id="dgal-l13" transform="translate(0 454.2)"><rect x="692" y="-7" width="25" height="14"/><path d="M692 7H717V-7"/><text x="704.5" y="3.5">effet</text><text class="nb" x="721" y="4">1</text></g>
<!-- DGAL right -->
<g class="n" id="dgal-r1" transform="translate(0 255)"><rect x="1078" y="-7" width="53" height="14"/><path d="M1078 7H1131V-7"/><text x="1104.5" y="3.5">coquillage</text><text class="nm" x="1066" y="4">14</text></g>
<g class="n" id="dgal-r2" transform="translate(0 271.6)"><rect x="1098" y="-7" width="29" height="14"/><path d="M1098 7H1127V-7"/><text x="1112.5" y="3.5">filière</text><text class="nm" x="1091" y="4">2</text></g>
<g class="n" id="dgal-r3" transform="translate(0 288.2)"><rect x="1115" y="-7" width="10" height="14"/><path d="M1115 7H1125V-7"/><text x="1120" y="3.5">x</text><text class="nm" x="1108" y="4">2</text></g>
<g class="n" id="dgal-r4" transform="translate(0 304.8)"><rect x="1108" y="-7" width="40" height="14"/><path d="M1108 7H1148V-7"/><text x="1128" y="3.5">solution</text><text class="nm" x="1100" y="4">2</text></g>
<g class="n" id="dgal-r5" transform="translate(0 321.4)"><rect x="1102" y="-7" width="67" height="14"/><path d="M1102 7H1169V-7"/><text x="1135.5" y="3.5">conséquence</text><text class="nm" x="1095" y="4">2</text></g>
<g class="n" id="dgal-r6" transform="translate(0 338)"><rect x="1143" y="-7" width="16" height="14"/><path d="M1143 7H1159V-7"/><text x="1151" y="3.5">ca</text><text class="nm" x="1136" y="4">1</text></g>
<g class="n" id="dgal-r7" transform="translate(0 354.6)"><rect x="1106" y="-7" width="76" height="14"/><path d="M1106 7H1182V-7"/><text x="1144" y="3.5">développement</text><text class="nm" x="1099" y="4">1</text></g>
<g class="n" id="dgal-r8" transform="translate(0 371.2)"><rect x="1103" y="-7" width="66" height="14"/><path d="M1103 7H1169V-7"/><text x="1136" y="3.5">raisonnement</text><text class="nm" x="1096" y="4">1</text></g>
<g class="n" id="dgal-r9" transform="translate(0 387.8)"><rect x="1105" y="-7" width="46" height="14"/><path d="M1105 7H1151V-7"/><text x="1128" y="3.5">problème</text><text class="nm" x="1098" y="4">1</text></g>
<g class="n" id="dgal-r10" transform="translate(0 404.4)"><rect x="1095" y="-7" width="50" height="14"/><path d="M1095 7H1145V-7"/><text x="1120" y="3.5">entreprise</text><text class="nm" x="1088" y="4">1</text></g>
<g class="n" id="dgal-r11" transform="translate(0 421)"><rect x="1090" y="-7" width="44" height="14"/><path d="M1090 7H1134V-7"/><text x="1112" y="3.5">question</text><text class="nm" x="1083" y="4">1</text></g>
<g class="n" id="dgal-r12" transform="translate(0 437.6)"><rect x="1088" y="-7" width="34" height="14"/><path d="M1088 7H1122V-7"/><text x="1105" y="3.5">acteur</text><text class="nm" x="1080" y="4">1</text></g>
<g class="n" id="dgal-r13" transform="translate(0 454.2)"><rect x="1069" y="-7" width="56" height="14"/><path d="M1069 7H1125V-7"/><text x="1097" y="3.5">déclaration</text><text class="nm" x="1062" y="4">1</text></g>

<!-- DPMA left -->
<g class="n" id="dpma-l1" transform="translate(0 485)"><rect x="679" y="-7" width="39" height="14"/><path d="M679 7H718V-7"/><text x="698.5" y="3.5">mesure</text><text class="nb" x="722" y="4">2</text></g>
<g class="n" id="dpma-l2" transform="translate(0 501.6)"><rect x="661" y="-7" width="60" height="14"/><path d="M661 7H721V-7"/><text x="691" y="3.5">organisation</text><text class="nb" x="724" y="4">2</text></g>
<g class="n" id="dpma-l3" transform="translate(0 518.2)"><rect x="653" y="-7" width="59" height="14"/><path d="M653 7H712V-7"/><text x="682.5" y="3.5">lutte_contre</text><text class="nb" x="716" y="4">2</text></g>
<g class="n" id="dpma-l4" transform="translate(0 534.8)"><rect x="648" y="-7" width="54" height="14"/><path d="M648 7H702V-7"/><text x="675" y="3.5">prévention</text><text class="nb" x="706" y="4">2</text></g>
<g class="n" id="dpma-l5" transform="translate(0 551.4)"><rect x="653" y="-7" width="29" height="14"/><path d="M653 7H682V-7"/><text x="667.5" y="3.5">filière</text><text class="nb" x="685" y="4">2</text></g>
<g class="n" id="dpma-l6" transform="translate(0 568)"><rect x="625" y="-7" width="53" height="14"/><path d="M625 7H678V-7"/><text class="b" x="651.5" y="3.5">coquillage</text><text class="nb" x="681" y="4">2</text></g>
<g class="n" id="dpma-l7" transform="translate(0 584.6)"><rect x="634" y="-7" width="50" height="14"/><path d="M634 7H684V-7"/><text x="659" y="3.5">comédien</text><text class="nb" x="688" y="4">1</text></g>
<g class="n" id="dpma-l8" transform="translate(0 601.2)"><rect x="647" y="-7" width="39" height="14"/><path d="M647 7H686V-7"/><text x="666.5" y="3.5">relation</text><text class="nb" x="690" y="4">1</text></g>
<g class="n" id="dpma-l9" transform="translate(0 617.8)"><rect x="663" y="-7" width="25" height="14"/><path d="M663 7H688V-7"/><text x="675.5" y="3.5">effet</text><text class="nb" x="691" y="4">1</text></g>
<g class="n" id="dpma-l10" transform="translate(0 634.4)"><rect x="644" y="-7" width="76" height="14"/><path d="M644 7H720V-7"/><text x="682" y="3.5">développement</text><text class="nb" x="724" y="4">1</text></g>
<g class="n" id="dpma-l11" transform="translate(0 651)"><rect x="672" y="-7" width="39" height="14"/><path d="M672 7H711V-7"/><text x="691.5" y="3.5">gestion</text><text class="nb" x="714" y="4">1</text></g>
<g class="n" id="dpma-l12" transform="translate(0 667.6)"><rect x="683" y="-7" width="30" height="14"/><path d="M683 7H713V-7"/><text x="698" y="3.5">perte</text><text class="nb" x="716" y="4">1</text></g>
<g class="n" id="dpma-l13" transform="translate(0 684.2)"><rect x="686" y="-7" width="39" height="14"/><path d="M686 7H725V-7"/><text x="705.5" y="3.5">service</text><text class="nb" x="729" y="4">1</text></g>
<text class="db" x="700" y="703">...</text>
<!-- DPMA right -->
<g class="n" id="dpma-r1" transform="translate(0 485)"><rect x="1081" y="-7" width="52" height="14"/><path d="M1081 7H1133V-7"/><text class="b" x="1107" y="3.5">coquillage</text><text class="nm" x="1068" y="4">13</text></g>
<g class="n" id="dpma-r2" transform="translate(0 501.6)"><rect x="1100" y="-7" width="29" height="14"/><path d="M1100 7H1129V-7"/><text x="1114.5" y="3.5">filière</text><text class="nm" x="1093" y="4">3</text></g>
<g class="n" id="dpma-r3" transform="translate(0 518.2)"><rect x="1102" y="-7" width="41" height="14"/><path d="M1102 7H1143V-7"/><text x="1122.5" y="3.5">solution</text><text class="nm" x="1095" y="4">2</text></g>
<g class="n" id="dpma-r4" transform="translate(0 534.8)"><rect x="1107" y="-7" width="46" height="14"/><path d="M1107 7H1153V-7"/><text x="1130" y="3.5">problème</text><text class="nm" x="1100" y="4">2</text></g>
<g class="n" id="dpma-r5" transform="translate(0 551.4)"><rect x="1133" y="-7" width="10" height="14"/><path d="M1133 7H1143V-7"/><text x="1138" y="3.5">x</text><text class="nm" x="1127" y="4">2</text></g>
<g class="n" id="dpma-r6" transform="translate(0 568)"><rect x="1132" y="-7" width="43" height="14"/><path d="M1132 7H1175V-7"/><text x="1153.5" y="3.5">transfert</text><text class="nm" x="1125" y="4">1</text></g>
<g class="n" id="dpma-r7" transform="translate(0 584.6)"><rect x="1125" y="-7" width="43" height="14"/><path d="M1125 7H1168V-7"/><text x="1146.5" y="3.5">bactérie</text><text class="nm" x="1118" y="4">1</text></g>
<g class="n" id="dpma-r8" transform="translate(0 601.2)"><rect x="1125" y="-7" width="27" height="14"/><path d="M1125 7H1152V-7"/><text x="1138.5" y="3.5">virus</text><text class="nm" x="1118" y="4">1</text></g>
<g class="n" id="dpma-r9" transform="translate(0 617.8)"><rect x="1113" y="-7" width="35" height="14"/><path d="M1113 7H1148V-7"/><text x="1130.5" y="3.5">france</text><text class="nm" x="1106" y="4">1</text></g>
<g class="n" id="dpma-r10" transform="translate(0 634.4)"><rect x="1107" y="-7" width="30" height="14"/><path d="M1107 7H1137V-7"/><text x="1122" y="3.5">vision</text><text class="nm" x="1100" y="4">1</text></g>
<g class="n" id="dpma-r11" transform="translate(0 651)"><rect x="1080" y="-7" width="68" height="14"/><path d="M1080 7H1148V-7"/><text x="1114" y="3.5">conséquence</text><text class="nm" x="1073" y="4">1</text></g>
<g class="n" id="dpma-r12" transform="translate(0 667.6)"><rect x="1082" y="-7" width="50" height="14"/><path d="M1082 7H1132V-7"/><text x="1107" y="3.5">entreprise</text><text class="nm" x="1075" y="4">1</text></g>
<g class="n" id="dpma-r13" transform="translate(0 684.2)"><rect x="1079" y="-7" width="40" height="14"/><path d="M1079 7H1119V-7"/><text x="1099" y="3.5">parasite</text><text class="nm" x="1072" y="4">1</text></g>
<text class="dm" x="1093" y="703">...</text>
</svg>
